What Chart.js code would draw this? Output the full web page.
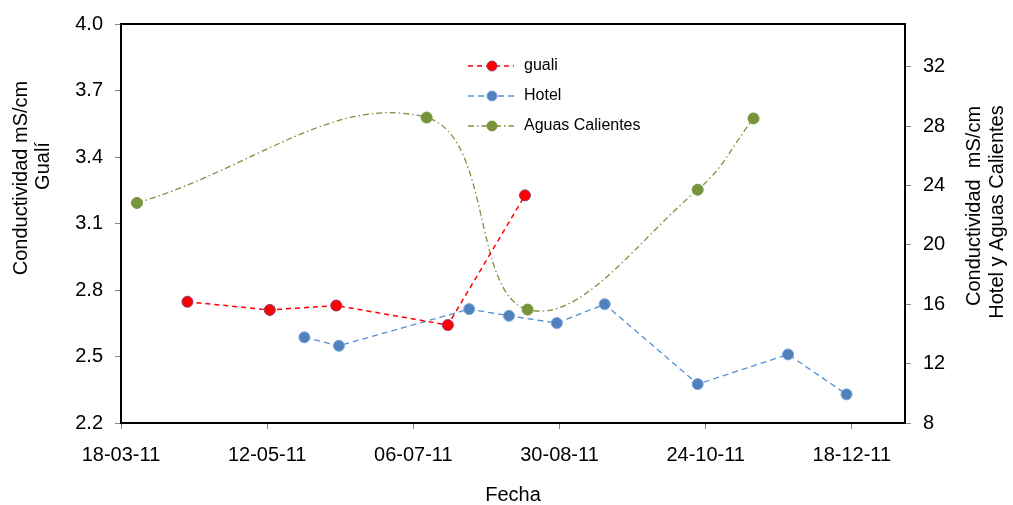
<!DOCTYPE html>
<html>
<head>
<meta charset="utf-8">
<script src="https://cdn.jsdelivr.net/npm/chart.js@4.4.0/dist/chart.umd.min.js"></script>
<style>
  html, body { margin: 0; padding: 0; background: #fff; }
</style>
</head>
<body>
<canvas id="chart" width="1013" height="505"></canvas>
<script>
const startDate = '2011-03-18';
const xTickDays = [0, 55, 110, 165, 220, 275];
const leftTicks = [2.2, 2.5, 2.8, 3.1, 3.4, 3.7, 4.0];
const rightTicks = [8, 12, 16, 20, 24, 28, 32];

const seriesNames = ['guali', 'Hotel', 'Aguas Calientes'];

const gualiDates = ['2011-04-12', '2011-05-13', '2011-06-07', '2011-07-19', '2011-08-17'];
const gualiValues = [2.747, 2.71, 2.73, 2.642, 3.227];

const hotelDates = ['2011-05-26', '2011-06-08', '2011-07-27', '2011-08-11', '2011-08-29', '2011-09-16', '2011-10-21', '2011-11-24', '2011-12-16'];
const hotelValues = [13.77, 13.2, 15.67, 15.22, 14.73, 16.0, 10.62, 12.62, 9.93];

const aguasDates = ['2011-03-24', '2011-07-11', '2011-08-18', '2011-10-21', '2011-11-11'];
const aguasValues = [22.82, 28.57, 15.64, 23.71, 28.51];

const FONT = "'Liberation Sans', Arial, sans-serif";

function dayOf(s) {
  return (Date.parse(s) - Date.parse(startDate)) / 86400000;
}
function toPoints(dates, values) {
  return dates.map((d, i) => ({ x: dayOf(d), y: values[i] }));
}
function fmtDay(v) {
  const d = new Date(Date.parse(startDate) + v * 86400000);
  const dd = d.getUTCDate().toString().padStart(2, '0');
  const mm = (d.getUTCMonth() + 1).toString().padStart(2, '0');
  const yy = (d.getUTCFullYear() % 100).toString().padStart(2, '0');
  return `${dd}-${mm}-${yy}`;
}

// frame around the plot area
const frame = {
  id: 'frame',
  afterDraw(chart) {
    const { ctx, chartArea: a } = chart;
    ctx.save();
    ctx.strokeStyle = '#000';
    ctx.lineWidth = 2;
    ctx.strokeRect(a.left, a.top, a.right - a.left, a.bottom - a.top);
    ctx.restore();
  },
};

// axis titles, placed like the excel original
const titles = {
  id: 'titles',
  afterDraw(chart) {
    const ctx = chart.ctx;
    ctx.save();
    ctx.fillStyle = '#000';
    ctx.font = `20px ${FONT}`;
    ctx.textAlign = 'center';
    ctx.textBaseline = 'middle';
    const rot = (text, x, y) => {
      ctx.save();
      ctx.translate(x, y);
      ctx.rotate(-Math.PI / 2);
      ctx.fillText(text, 0, 0);
      ctx.restore();
    };
    rot('Conductividad mS/cm', 21, 178);
    rot('Gualí', 43, 166);
    rot('Conductividad  mS/cm', 974, 206);
    rot('Hotel y Aguas Calientes', 997, 212);
    ctx.fillText('Fecha', 513, 495);
    ctx.restore();
  },
};

// legend: dashed line sample with the marker in the middle
const legendBox = {
  id: 'legendBox',
  afterDraw(chart) {
    const ctx = chart.ctx;
    const x0 = 468;
    const rows = [66, 96, 126];
    ctx.save();
    chart.data.datasets.forEach((ds, i) => {
      const y = rows[i];
      ctx.beginPath();
      ctx.setLineDash(ds.borderDash);
      ctx.strokeStyle = ds.borderColor;
      ctx.lineWidth = ds.borderWidth;
      ctx.moveTo(x0, y);
      ctx.lineTo(x0 + 46, y);
      ctx.stroke();
      ctx.setLineDash([]);
      ctx.beginPath();
      ctx.arc(x0 + 24, y, 5, 0, Math.PI * 2);
      ctx.fillStyle = ds.pointBackgroundColor;
      ctx.fill();
      ctx.lineWidth = 1;
      ctx.strokeStyle = ds.pointBorderColor;
      ctx.stroke();
      ctx.fillStyle = '#000';
      ctx.font = `16px ${FONT}`;
      ctx.textAlign = 'left';
      ctx.textBaseline = 'middle';
      ctx.fillText(ds.label, x0 + 56, y);
    });
    ctx.restore();
  },
};

const tickFont = { family: FONT, size: 20 };
const tickGrid = { drawOnChartArea: false, drawTicks: true, tickLength: 6, color: '#868686' };

new Chart(document.getElementById('chart'), {
  type: 'line',
  data: {
    datasets: [
      {
        label: seriesNames[0],
        data: toPoints(gualiDates, gualiValues),
        yAxisID: 'y',
        borderColor: '#FF0000',
        borderWidth: 1.5,
        borderDash: [5, 4],
        pointRadius: 5.5,
        pointBackgroundColor: '#FF0000',
        pointBorderColor: '#8E3B74',
        pointBorderWidth: 1,
        tension: 0,
      },
      {
        label: seriesNames[1],
        data: toPoints(hotelDates, hotelValues),
        yAxisID: 'y2',
        borderColor: '#558ED5',
        borderWidth: 1.3,
        borderDash: [6, 4],
        pointRadius: 5.5,
        pointBackgroundColor: '#4F81BD',
        pointBorderColor: '#7AA3D6',
        pointBorderWidth: 1,
        tension: 0,
      },
      {
        label: seriesNames[2],
        data: toPoints(aguasDates, aguasValues),
        yAxisID: 'y2',
        borderColor: '#77933C',
        borderWidth: 1.3,
        borderDash: [6, 3, 1.5, 3],
        pointRadius: 5.5,
        pointBackgroundColor: '#77933C',
        pointBorderColor: '#77933C',
        pointBorderWidth: 1,
        tension: 0.4,
      },
    ],
  },
  options: {
    responsive: false,
    animation: false,
    devicePixelRatio: 1,
    layout: { padding: { top: 20, left: 0, right: 0, bottom: 0 } },
    plugins: {
      legend: { display: false },
      tooltip: { enabled: false },
    },
    scales: {
      x: {
        type: 'linear',
        min: 0,
        max: 295,
        afterBuildTicks: (scale) => { scale.ticks = xTickDays.map((v) => ({ value: v })); },
        afterFit: (scale) => { scale.height = 82; },
        ticks: { callback: fmtDay, font: tickFont, color: '#000', padding: 14, maxRotation: 0, autoSkip: false },
        grid: tickGrid,
        border: { display: false },
      },
      y: {
        position: 'left',
        min: 2.2,
        max: 4.0,
        afterBuildTicks: (scale) => { scale.ticks = leftTicks.map((v) => ({ value: v })); },
        afterFit: (scale) => { scale.width = 121; },
        ticks: { callback: (v) => v.toFixed(1), font: tickFont, color: '#000', padding: 12 },
        grid: tickGrid,
        border: { display: false },
      },
      y2: {
        position: 'right',
        min: 8,
        max: 34.87,
        afterBuildTicks: (scale) => { scale.ticks = rightTicks.map((v) => ({ value: v })); },
        afterFit: (scale) => { scale.width = 108; },
        ticks: { font: tickFont, color: '#000', padding: 12 },
        grid: tickGrid,
        border: { display: false },
      },
    },
  },
  plugins: [frame, titles, legendBox],
});
</script>
</body>
</html>
